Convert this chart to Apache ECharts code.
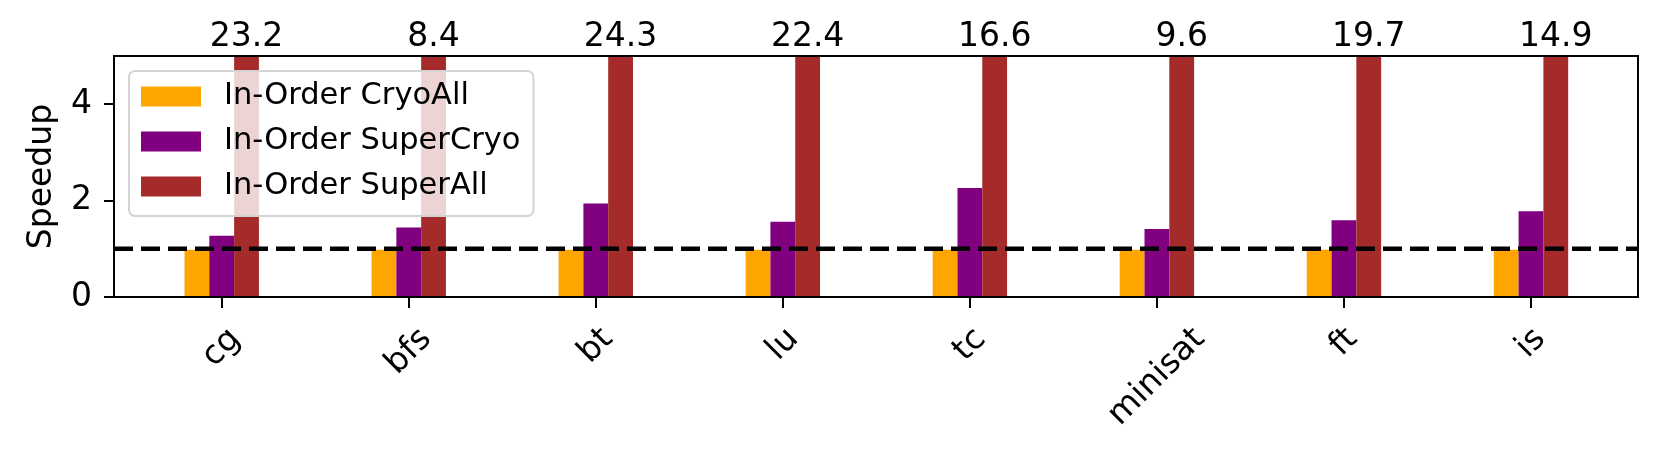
<!DOCTYPE html>
<html>
<head>
<meta charset="utf-8">
<script src="https://cdn.jsdelivr.net/npm/echarts@6/dist/echarts.min.js"></script>
<style>
html,body{margin:0;padding:0;background:#fff}
#box{width:1662px;height:456px}
</style>
</head>
<body>
<div id="box"></div>
<script>
// benchmarks
var categories = ['cg', 'bfs', 'bt', 'lu', 'tc', 'minisat', 'ft', 'is'];
// speedups (superAll from the labels)
var cryoAll = [0.98, 0.98, 0.98, 0.98, 0.98, 0.98, 0.98, 0.98];
var superCryo = [1.27, 1.44, 1.94, 1.56, 2.26, 1.41, 1.59, 1.78];
var superAll = [23.2, 8.4, 24.3, 22.4, 16.6, 9.6, 19.7, 14.9];
var names = ['In-Order CryoAll', 'In-Order SuperCryo', 'In-Order SuperAll'];
var yTicks = [0, 2, 4];
var yMax = 5;
var baseline = 1;

var FONT = 'DejaVu Sans';

// rotated labels are centred under the tick like matplotlib does,
// so each one gets its own padding from its text width
var ctx = document.createElement('canvas').getContext('2d');
ctx.font = '33px "' + FONT + '"';
var rich = {};
for (var i = 0; i < categories.length; i++) {
    var w = ctx.measureText(categories[i]).width;
    rich['l' + i] = {
        fontFamily: FONT, fontSize: 33, color: '#000', lineHeight: 36,
        padding: [w / 2, w / 2, 0, 0]
    };
}

var mychart = echarts.init(document.getElementById('box'), null, {renderer: 'canvas'});
var option = {
    animation: false,
    backgroundColor: '#fff',
    textStyle: {fontFamily: FONT, color: '#000'},
    grid: [
        // bars
        {left: 128.2, right: 37.5, top: 56, bottom: 159},
        // frame
        {left: 114, right: 24, top: 56, bottom: 159, show: true, z: 3,
         borderColor: '#000', borderWidth: 2, backgroundColor: 'transparent'}
    ],
    legend: {
        data: names,
        orient: 'vertical',
        left: 129, top: 71,
        icon: 'rect',
        itemWidth: 60, itemHeight: 20, itemGap: 14,
        padding: [10, 13, 14, 12],
        backgroundColor: 'rgba(255,255,255,0.8)',
        borderColor: '#d4d4d4', borderWidth: 2, borderRadius: 6,
        textStyle: {fontFamily: FONT, fontSize: 30.5, color: '#000', lineHeight: 30, padding: [0, 0, 0, 18]},
        z: 10
    },
    xAxis: [{
        type: 'category', gridIndex: 0, data: categories,
        axisLine: {show: false},
        axisTick: {show: true, alignWithLabel: true, length: 11, lineStyle: {color: '#000', width: 2}},
        axisLabel: {
            interval: 0, rotate: 45, margin: 37,
            align: 'center', verticalAlign: 'middle',
            formatter: function (v, idx) { return '{l' + idx + '|' + v + '}'; },
            rich: rich
        },
        splitLine: {show: false}
    }, {
        type: 'value', gridIndex: 1, min: 0, max: 1, show: false
    }],
    yAxis: [{
        type: 'value', gridIndex: 0, min: 0, max: yMax, show: false
    }, {
        type: 'value', gridIndex: 1, min: 0, max: yMax,
        name: 'Speedup', nameLocation: 'middle', nameGap: 55,
        nameTextStyle: {fontFamily: FONT, fontSize: 33, color: '#000'},
        axisLine: {show: false},
        axisTick: {show: true, length: 10, customValues: yTicks, lineStyle: {color: '#000', width: 2}},
        axisLabel: {customValues: yTicks, margin: 22, fontFamily: FONT, fontSize: 33, color: '#000'},
        splitLine: {show: false}
    }],
    series: [{
        name: names[0], type: 'bar', xAxisIndex: 0, yAxisIndex: 0,
        data: cryoAll, barWidth: 24.8, barGap: '0%',
        itemStyle: {color: '#ffa500'}
    }, {
        name: names[1], type: 'bar', xAxisIndex: 0, yAxisIndex: 0,
        data: superCryo, barWidth: 24.8, barGap: '0%',
        itemStyle: {color: '#800080'}
    }, {
        name: names[2], type: 'bar', xAxisIndex: 0, yAxisIndex: 0,
        data: superAll, barWidth: 24.8, barGap: '0%',
        itemStyle: {color: '#a52a2a'},
        label: {
            show: true, position: 'top', distance: 2,
            fontFamily: FONT, fontSize: 33, lineHeight: 33, color: '#000',
            formatter: function (p) { return p.value.toFixed(1); }
        }
    }, {
        // dashed line at speedup 1 across the whole frame
        type: 'line', xAxisIndex: 1, yAxisIndex: 1,
        data: [[0, baseline], [1, baseline]],
        symbol: 'none', silent: true, z: 3,
        lineStyle: {color: '#000', width: 4.5, type: [19, 8]}
    }]
};
mychart.setOption(option);
</script>
</body>
</html>
